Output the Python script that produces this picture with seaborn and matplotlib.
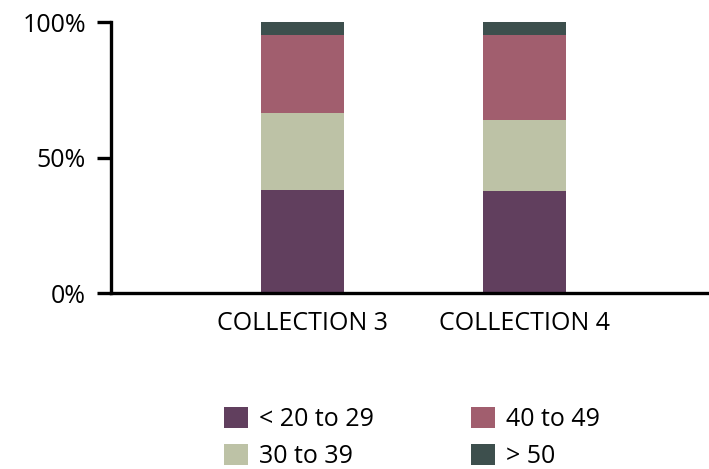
import numpy as np
import pandas as pd
import matplotlib
matplotlib.use('Agg')
import matplotlib.pyplot as plt
import seaborn as sns
from matplotlib.patches import Patch

# datos (porcentajes)
colecciones = ["COLLECTION 3", "COLLECTION 4"]
grupos = ["< 20 to 29", "30 to 39", "40 to 49", "> 50"]
edad_20_29 = [38.1, 37.7]
edad_30_39 = [28.4, 26.2]
edad_40_49 = [28.7, 31.3]
edad_50 = [4.8, 4.8]

COLORES = ["#613F5E", "#BDC2A6", "#A15E6E", "#3D4F4D"]

sns.set_theme(style="white")
plt.rcParams['font.family'] = ['Open Sans', 'DejaVu Sans']
plt.rcParams['text.color'] = 'black'

df = pd.DataFrame({
    "coleccion": colecciones,
    grupos[0]: edad_20_29,
    grupos[1]: edad_30_39,
    grupos[2]: edad_40_49,
    grupos[3]: edad_50,
})
acum = df[grupos].cumsum(axis=1)

fig = plt.figure(figsize=(7.09, 4.69), dpi=100)
ax = fig.add_axes([111 / 709, 1 - 293.3 / 469, 1 - 111 / 709, (293.3 - 22) / 469])

# barras apiladas: de la suma total hacia abajo
for grupo, color in reversed(list(zip(grupos, COLORES))):
    sns.barplot(x=df["coleccion"], y=acum[grupo], color=color, width=0.372,
                saturation=1, linewidth=0, edgecolor="none", ax=ax, zorder=2)

ax.set_xlim(-0.861, 1.83)
ax.set_ylim(0, 100)
ax.set_yticks([0, 50, 100])
ax.set_yticklabels(["0%", "50%", "100%"])
ax.set_xlabel("")
ax.set_ylabel("")
sns.despine(ax=ax, top=True, right=True)
for s in ["left", "bottom"]:
    ax.spines[s].set_linewidth(2.4)
    ax.spines[s].set_color("black")
ax.tick_params(axis="y", length=10, width=2.4, pad=8, labelsize=18, left=True,
               colors="black", labelcolor="black")
ax.tick_params(axis="x", length=0, pad=13, labelsize=18, colors="black", labelcolor="black")

handles = [Patch(facecolor=c, edgecolor="none", label=g) for g, c in zip(grupos, COLORES)]
fig.legend(handles=handles, loc="upper center", bbox_to_anchor=(412 / 709, 1 - 394 / 469),
           ncol=2, frameon=False, fontsize=18, handlelength=0.96, handleheight=0.92,
           handletextpad=0.44, columnspacing=3.9, labelspacing=0.48, borderpad=0,
           labelcolor="black")

plt.savefig("out.png", dpi=100)
plt.close()
